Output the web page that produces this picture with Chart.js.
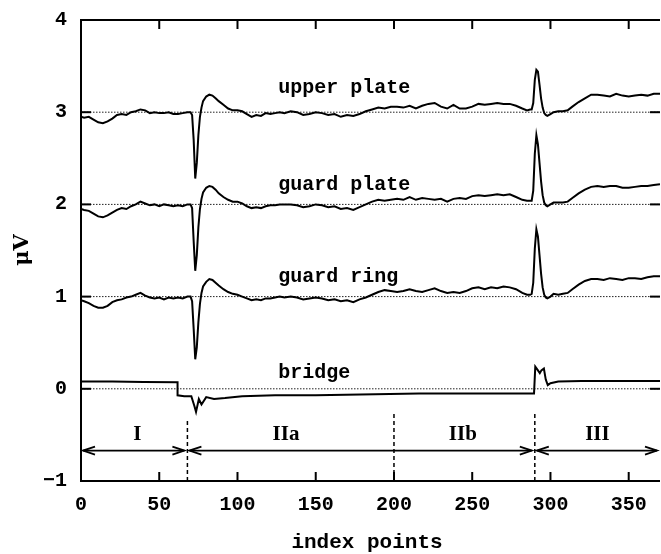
<!DOCTYPE html>
<html>
<head>
<meta charset="utf-8">
<script src="https://cdn.jsdelivr.net/npm/chart.js@4.4.1/dist/chart.umd.min.js"></script>
<style>
  html, body { margin: 0; padding: 0; background: #fff; }
  canvas { display: block; }
</style>
</head>
<body>
<canvas id="chart" width="661" height="554"></canvas>
<script>
// index points shared by the three electrode traces
const indexPts = [
  0, 2, 5, 8, 11, 14, 17, 20, 23, 26,
  29, 32, 35, 38, 41, 44, 47, 50, 53, 56,
  59, 62, 65, 68, 70, 71, 72, 73, 74, 75,
  76, 77, 78, 80, 82, 84, 86, 88, 91, 94,
  97, 100, 103, 106, 109, 112, 115, 118, 121, 124,
  127, 130, 134, 138, 142, 146, 150, 154, 158, 162,
  166, 170, 174, 178, 182, 186, 190, 194, 198, 202,
  206, 210, 214, 218, 222, 226, 230, 234, 238, 242,
  246, 250, 254, 258, 262, 266, 270, 274, 278, 282,
  285, 287, 288, 289, 290, 291, 292, 293, 294, 295,
  296, 297, 298, 300, 302, 305, 308, 311, 314, 318,
  322, 326, 330, 334, 338, 342, 346, 350, 354, 358,
  362, 366, 370
];

const upperPlate = [
  2.95, 2.94, 2.95, 2.92, 2.89, 2.88, 2.90, 2.93, 2.97, 2.98,
  2.97, 3.00, 3.01, 3.03, 3.02, 2.99, 3.00, 2.99, 2.99, 3.00,
  2.98, 2.98, 2.99, 3.00, 3.00, 2.97, 2.70, 2.28, 2.45, 2.75,
  2.95, 3.05, 3.12, 3.17, 3.19, 3.18, 3.15, 3.12, 3.08, 3.04,
  3.02, 3.02, 3.01, 2.98, 2.95, 2.97, 2.96, 2.99, 2.98, 2.99,
  3.00, 2.99, 3.01, 3.00, 2.97, 2.98, 3.00, 2.99, 2.97, 2.98,
  2.95, 2.97, 2.96, 2.98, 3.01, 3.03, 3.05, 3.04, 3.06, 3.06,
  3.05, 3.07, 3.04, 3.07, 3.09, 3.10, 3.06, 3.04, 3.08, 3.04,
  3.04, 3.06, 3.09, 3.08, 3.09, 3.10, 3.09, 3.09, 3.07, 3.04,
  3.02, 3.03, 3.03, 3.10, 3.35, 3.46, 3.44, 3.30, 3.15, 3.05,
  2.99, 2.97, 2.96, 2.98, 3.00, 3.01, 3.01, 3.02, 3.06, 3.11,
  3.15, 3.19, 3.19, 3.18, 3.17, 3.20, 3.18, 3.17, 3.18, 3.19,
  3.18, 3.20, 3.20
];

const guardPlate = [
  1.95, 1.94, 1.93, 1.90, 1.87, 1.86, 1.88, 1.91, 1.94, 1.96,
  1.95, 1.98, 2.00, 2.03, 2.01, 1.99, 2.00, 1.98, 2.00, 1.99,
  1.98, 1.99, 1.98, 2.00, 2.00, 1.96, 1.60, 1.28, 1.45, 1.75,
  1.95, 2.06, 2.13, 2.18, 2.20, 2.19, 2.16, 2.12, 2.08, 2.05,
  2.03, 2.03, 2.01, 1.98, 1.96, 1.97, 1.96, 1.98, 1.99, 1.99,
  2.00, 2.00, 2.00, 1.99, 1.97, 1.98, 2.00, 1.99, 1.97, 1.98,
  1.95, 1.96, 1.94, 1.97, 2.00, 2.03, 2.05, 2.04, 2.05, 2.06,
  2.05, 2.08, 2.05, 2.07, 2.06, 2.05, 2.06, 2.03, 2.06, 2.07,
  2.06, 2.09, 2.10, 2.09, 2.10, 2.11, 2.10, 2.11, 2.08, 2.05,
  2.04, 2.04, 2.04, 2.15, 2.55, 2.75, 2.65, 2.45, 2.25, 2.10,
  2.02, 1.99, 1.98, 2.00, 2.02, 2.02, 2.02, 2.03, 2.07, 2.12,
  2.16, 2.19, 2.20, 2.19, 2.20, 2.20, 2.18, 2.18, 2.19, 2.20,
  2.20, 2.21, 2.22
];

const guardRing = [
  0.96, 0.95, 0.93, 0.90, 0.88, 0.88, 0.90, 0.94, 0.96, 0.97,
  0.99, 1.00, 1.02, 1.04, 1.01, 0.99, 0.98, 0.99, 0.97, 0.99,
  0.98, 0.99, 0.98, 1.00, 1.00, 0.95, 0.65, 0.32, 0.45, 0.72,
  0.92, 1.04, 1.11, 1.16, 1.19, 1.18, 1.15, 1.12, 1.08, 1.05,
  1.03, 1.02, 1.00, 0.98, 0.96, 0.97, 0.96, 0.98, 0.98, 0.99,
  1.00, 0.99, 1.00, 0.99, 0.97, 0.98, 0.99, 0.98, 0.96, 0.97,
  0.95, 0.96, 0.94, 0.97, 0.99, 1.02, 1.05, 1.07, 1.06, 1.05,
  1.06, 1.08, 1.06, 1.05, 1.07, 1.09, 1.06, 1.04, 1.05, 1.04,
  1.06, 1.09, 1.10, 1.08, 1.10, 1.09, 1.11, 1.10, 1.08, 1.04,
  1.02, 1.02, 1.03, 1.15, 1.52, 1.73, 1.65, 1.45, 1.25, 1.10,
  1.02, 0.99, 0.98, 1.00, 1.03, 1.02, 1.03, 1.04, 1.08, 1.13,
  1.17, 1.19, 1.19, 1.18, 1.20, 1.19, 1.18, 1.20, 1.20, 1.19,
  1.21, 1.22, 1.22
];

// bridge trace has its own sampling (step at ~62)
const bridgeX = [0, 20, 40, 61.7, 61.7, 66, 70.5, 72.5, 73.5, 75.3,
  77, 80, 85, 92, 103, 124, 150, 188, 216, 250,
  280, 289.5, 290.3, 292, 293.2, 294.2, 295.8, 297, 298.3, 300,
  305, 320, 345, 370];
const bridgeY = [0.08, 0.08, 0.075, 0.07, -0.07, -0.08, -0.08, -0.19, -0.25, -0.11,
  -0.17, -0.09, -0.11, -0.10, -0.08, -0.07, -0.07, -0.06, -0.05, -0.05,
  -0.05, -0.05, 0.24, 0.20, 0.17, 0.20, 0.22, 0.10, 0.04, 0.06,
  0.08, 0.085, 0.085, 0.085];

const traceNames = ['upper plate', 'guard plate', 'guard ring', 'bridge'];
const traceLabelX = [126, 126, 126, 126];
const traceLabelY = [3.21, 2.16, 1.16, 0.12];

const baselines = [0, 1, 2, 3];
const dividerX = [68, 200, 290];
const dividerTop = [-0.32, -0.27, -0.27];
const regionBounds = [0, 68, 290, 370];
const regionNames = ['I', 'IIa', 'IIb', 'III'];
const regionNameX = [36, 131, 244, 330];
const regionNameY = -0.56;
const arrowY = -0.67;

const xTicks = [0, 50, 100, 150, 200, 250, 300, 350];
const yTicks = [-1, 0, 1, 2, 3, 4];

const pts = (xs, ys) => xs.map((v, i) => ({ x: v, y: ys[i] }));

const traceStyle = { borderColor: '#000', borderWidth: 2, pointRadius: 0, tension: 0, fill: false };

const datasets = [
  { ...traceStyle, data: pts(indexPts, upperPlate), order: 1 },
  { ...traceStyle, data: pts(indexPts, guardPlate), order: 1 },
  { ...traceStyle, data: pts(indexPts, guardRing), order: 1 },
  { ...traceStyle, data: pts(bridgeX, bridgeY), order: 1 }
];
baselines.forEach(b => datasets.push({
  data: [{ x: 0, y: b }, { x: 370, y: b }],
  borderColor: '#222', borderWidth: 1, borderDash: [1.5, 1.5], pointRadius: 0, order: 2
}));
dividerX.forEach((d, i) => datasets.push({
  data: [{ x: d, y: -1 }, { x: d, y: dividerTop[i] }],
  borderColor: '#000', borderWidth: 1.5, borderDash: [4, 3], pointRadius: 0, order: 2
}));

const monoBold = (size) => `bold ${size}px "Liberation Mono", "Courier New", monospace`;

function seg(ctx, x0, y0, x1, y1) {
  ctx.beginPath(); ctx.moveTo(x0, y0); ctx.lineTo(x1, y1); ctx.stroke();
}

const decorations = {
  id: 'decorations',
  afterDatasetsDraw(chart) {
    const { ctx, chartArea: a, scales: { x, y } } = chart;
    ctx.save();
    ctx.strokeStyle = '#000';
    ctx.fillStyle = '#000';

    // frame (left, top, bottom)
    ctx.lineWidth = 2;
    ctx.beginPath();
    ctx.moveTo(a.right, a.top);
    ctx.lineTo(a.left, a.top);
    ctx.lineTo(a.left, a.bottom);
    ctx.lineTo(a.right, a.bottom);
    ctx.stroke();

    // inward tick marks
    xTicks.forEach(v => {
      if (v === 0) return;
      const px = x.getPixelForValue(v);
      seg(ctx, px, a.bottom, px, a.bottom - 9);
      seg(ctx, px, a.top, px, a.top + 9);
    });
    yTicks.forEach(v => {
      if (v === -1 || v === 4) return;
      const py = y.getPixelForValue(v);
      seg(ctx, a.left, py, a.left + 10, py);
      seg(ctx, a.right, py, a.right - 10, py);
    });

    // region arrows
    ctx.lineWidth = 1.8;
    const ay = y.getPixelForValue(arrowY);
    for (let i = 0; i < regionBounds.length - 1; i++) {
      const x0 = x.getPixelForValue(regionBounds[i]) + 2;
      const x1 = x.getPixelForValue(regionBounds[i + 1]) - 3;
      seg(ctx, x0, ay, x1, ay);
      [[x0, 1], [x1, -1]].forEach(([px, d]) => {
        ctx.beginPath();
        ctx.moveTo(px + 12 * d, ay - 4);
        ctx.lineTo(px, ay);
        ctx.lineTo(px + 12 * d, ay + 4);
        ctx.stroke();
      });
    }

    // region names
    ctx.font = 'bold 21px "Liberation Serif", serif';
    ctx.textAlign = 'center';
    ctx.textBaseline = 'alphabetic';
    regionNames.forEach((n, i) => {
      ctx.fillText(n, x.getPixelForValue(regionNameX[i]), y.getPixelForValue(regionNameY));
    });

    // trace names
    ctx.font = monoBold(20);
    ctx.textAlign = 'left';
    traceNames.forEach((n, i) => {
      ctx.fillText(n, x.getPixelForValue(traceLabelX[i]), y.getPixelForValue(traceLabelY[i]));
    });

    // axis titles
    ctx.font = monoBold(21);
    ctx.textAlign = 'center';
    ctx.fillText('index points', 367, 548);

    ctx.translate(28, 250);
    ctx.rotate(-Math.PI / 2);
    ctx.font = 'bold 21px "DejaVu Serif", serif';
    ctx.fillText('\u03bcV', 0, 0);
    ctx.restore();
  }
};

new Chart(document.getElementById('chart').getContext('2d'), {
  type: 'line',
  data: { datasets: datasets },
  options: {
    responsive: false,
    animation: false,
    events: [],
    layout: { padding: { top: 20, right: 1, left: 0, bottom: 0 } },
    plugins: { legend: { display: false }, tooltip: { enabled: false } },
    scales: {
      x: {
        type: 'linear', min: 0, max: 370,
        grid: { display: false, drawTicks: false },
        border: { display: false },
        afterBuildTicks: s => { s.ticks = xTicks.map(v => ({ value: v })); },
        afterFit: s => { s.height = 73; s.paddingLeft = 0; s.paddingRight = 0; },
        ticks: { color: '#000', font: { family: '"Liberation Mono", monospace', size: 20, weight: 'bold' },
                 padding: 12, maxRotation: 0, autoSkip: false }
      },
      y: {
        type: 'linear', min: -1, max: 4,
        grid: { display: false, drawTicks: false },
        border: { display: false },
        afterBuildTicks: s => { s.ticks = yTicks.map(v => ({ value: v })); },
        afterFit: s => { s.width = 81; s.paddingTop = 0; s.paddingBottom = 0; },
        ticks: { color: '#000', font: { family: '"Liberation Mono", monospace', size: 20, weight: 'bold' },
                 padding: 14, callback: v => v < 0 ? '\u2212' + Math.abs(v) : String(v) }
      }
    }
  },
  plugins: [decorations]
});
</script>
</body>
</html>
